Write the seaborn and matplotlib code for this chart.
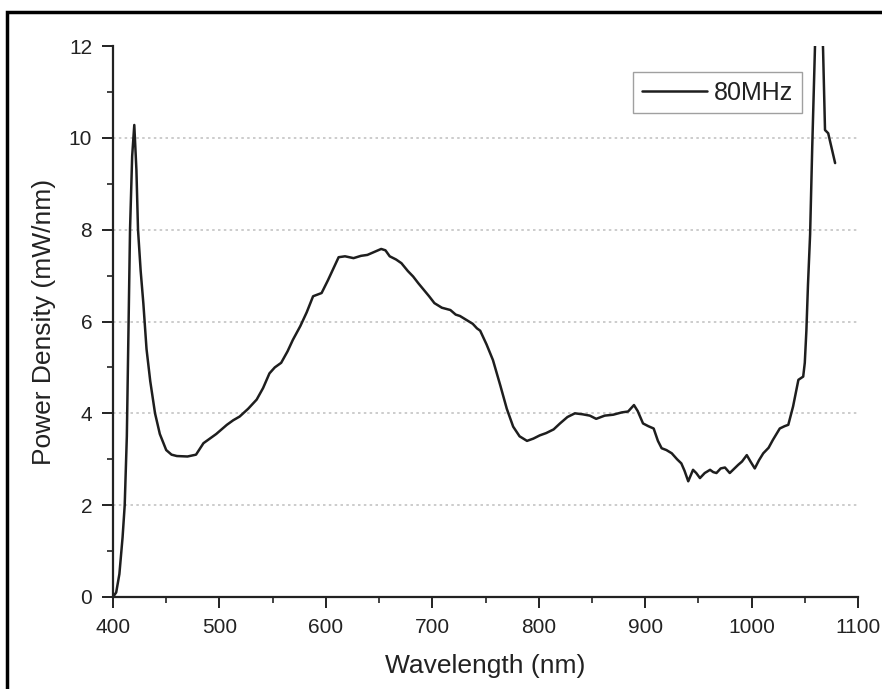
import numpy as np
import pandas as pd
import seaborn as sns
import matplotlib.pyplot as plt
from matplotlib.patches import Rectangle
from matplotlib.ticker import MultipleLocator

# spectrum (nm, mW/nm)
wavelength = [400, 403, 406, 409, 411, 413, 416, 418, 420, 422, 423.5, 426, 428.5,
              431.5, 435, 439.5, 444, 450, 455, 460, 470, 478, 485, 491, 497, 507,
              513, 519, 527, 535, 541, 547, 552, 558, 564, 569, 576, 582, 588, 596,
              602, 607, 612, 618, 626, 633, 639, 646, 652, 656, 660, 666, 671, 677,
              682, 687, 692, 697, 702, 709, 717, 722, 726, 733, 738, 742, 745, 751,
              757, 764, 770, 776, 782, 789, 795, 801, 807, 814, 820, 827, 834, 841,
              848, 854, 862, 870, 878, 884, 889.5, 893, 898, 903, 908, 912, 915.5,
              920, 925, 930, 934, 937, 940.5, 945, 948, 951.5, 956, 961, 964, 967,
              971, 975, 979.5, 984, 987.5, 991, 995.5, 999, 1003, 1007, 1011, 1016,
              1020, 1026.5, 1031, 1034.5, 1039, 1044, 1048.5, 1050, 1051.5, 1053,
              1055, 1057, 1059.6, 1062, 1064, 1066, 1067.2, 1069, 1072, 1075, 1078.5]
power = [0.0, 0.1, 0.5, 1.3, 2.0, 3.5, 8.0, 9.6, 10.28, 9.3, 8.0, 7.1, 6.4,
         5.4, 4.7, 4.0, 3.55, 3.2, 3.1, 3.07, 3.06, 3.1, 3.35, 3.45, 3.55, 3.75,
         3.85, 3.93, 4.1, 4.3, 4.55, 4.87, 5.0, 5.1, 5.35, 5.6, 5.9, 6.2, 6.55, 6.62,
         6.9, 7.15, 7.4, 7.42, 7.38, 7.43, 7.45, 7.52, 7.58, 7.55, 7.42, 7.35, 7.27, 7.1,
         6.98, 6.83, 6.69, 6.55, 6.4, 6.3, 6.25, 6.15, 6.12, 6.02, 5.95, 5.85, 5.8, 5.5,
         5.16, 4.6, 4.1, 3.71, 3.5, 3.4, 3.45, 3.52, 3.57, 3.65, 3.78, 3.92, 4.0, 3.98,
         3.95, 3.88, 3.95, 3.97, 4.02, 4.04, 4.18, 4.05, 3.78, 3.72, 3.67, 3.4, 3.24,
         3.2, 3.13, 3.0, 2.91, 2.75, 2.52, 2.77, 2.7, 2.59, 2.7, 2.77, 2.72, 2.7,
         2.8, 2.82, 2.7, 2.8, 2.88, 2.95, 3.09, 2.95, 2.8, 2.98, 3.13, 3.25,
         3.42, 3.67, 3.72, 3.75, 4.15, 4.73, 4.8, 5.1, 5.8, 6.8,
         7.9, 9.8, 12.0, 13.5, 14.0, 12.8, 11.9, 10.17, 10.1, 9.8, 9.45]

series_label = '80MHz'
x_ticks = [400, 500, 600, 700, 800, 900, 1000, 1100]
y_ticks = [0, 2, 4, 6, 8, 10, 12]

df = pd.DataFrame({'wavelength': wavelength, 'power': power})

sns.set_style('ticks')
plt.rcParams['font.family'] = ['Liberation Sans', 'DejaVu Sans']

fig = plt.figure(figsize=(8.82, 6.89), dpi=100)
ax = fig.add_axes([113 / 882, 1 - 597 / 689, 745 / 882, 551 / 689])

sns.lineplot(data=df, x='wavelength', y='power', ax=ax, color='#1e1e1e',
             linewidth=1.8, label=series_label, sort=False)

ax.set_xlim(400, 1100)
ax.set_ylim(0, 12)
ax.set_xticks(x_ticks)
ax.set_yticks(y_ticks)
ax.xaxis.set_minor_locator(MultipleLocator(50))
ax.yaxis.set_minor_locator(MultipleLocator(1))
ax.tick_params(axis='both', which='major', length=8, width=1.4, labelsize=15,
               colors='#222222', pad=7)
ax.tick_params(axis='both', which='minor', length=4, width=1.2, colors='#222222')

# light dotted grid at major y values only
for y in y_ticks[1:-1]:
    ax.axhline(y, color='#c4c4c4', linestyle=(0, (1.5, 2)), linewidth=1.2, zorder=0)

for side in ['top', 'right']:
    ax.spines[side].set_visible(False)
for side in ['left', 'bottom']:
    ax.spines[side].set_linewidth(1.6)
    ax.spines[side].set_color('#222222')

ax.set_xlabel('Wavelength (nm)', fontsize=19, color='#222222', labelpad=12)
ax.set_ylabel('Power Density (mW/nm)', fontsize=19, color='#222222', labelpad=9)

leg = ax.legend(loc='upper right', bbox_to_anchor=(0.925, 0.953), borderaxespad=0,
                fontsize=18, frameon=True, fancybox=False, handlelength=2.6,
                handletextpad=0.3, borderpad=0.35)
leg.get_frame().set_edgecolor('#888888')
leg.get_frame().set_linewidth(1.0)
for t in leg.get_texts():
    t.set_color('#222222')

# outer frame of the original image (left and top edges visible)
fig.patches.append(Rectangle((7 / 882, -0.1), 1.2, 1.1 - 12 / 689,
                             transform=fig.transFigure, fill=False,
                             edgecolor='black', linewidth=2.5))

fig.savefig('out.png', dpi=100)
